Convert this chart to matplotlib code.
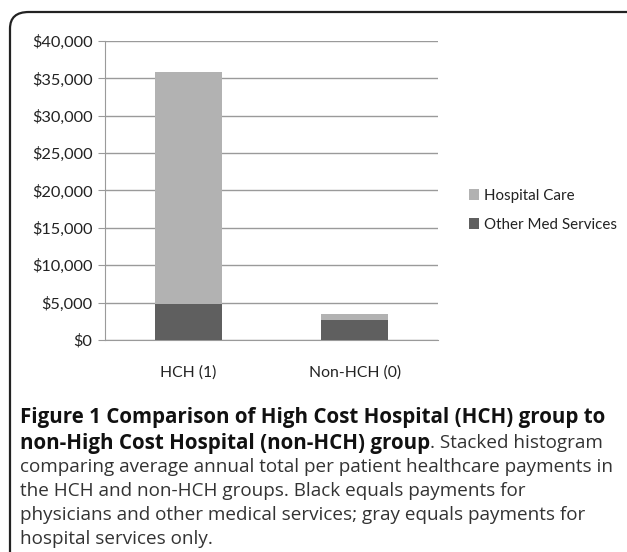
import matplotlib
matplotlib.use("Agg")
import matplotlib.pyplot as plt
import matplotlib.patches as patches
from matplotlib.ticker import FuncFormatter

# data
groups = ["HCH (1)", "Non-HCH (0)"]
other_med = [4800, 2700]
hospital = [31100, 800]
yticks = list(range(0, 40001, 5000))

W, H = 627, 552
fig = plt.figure(figsize=(W / 100, H / 100), dpi=100)
fig.patch.set_facecolor("white")

# frame round the whole figure (left and top sides only show)
frame = patches.FancyBboxPatch((10 / W, -0.2), 1.2, (540 / H) + 0.2,
                               boxstyle="round,pad=0,rounding_size=0.03",
                               transform=fig.transFigure, facecolor="none",
                               edgecolor="#222222", linewidth=1.6, clip_on=False)
fig.patches.append(frame)

ax = fig.add_axes([105 / W, 1 - 340 / H, (438 - 105) / W, (340 - 41) / H])

x = range(len(groups))
b1 = ax.bar(x, other_med, width=0.4, color="#5f5f5f", label="Other Med Services", zorder=3)
b2 = ax.bar(x, hospital, width=0.4, bottom=other_med, color="#b2b2b2",
            label="Hospital Care", zorder=3)

ax.set_xlim(-0.5, 1.5)
ax.set_ylim(0, 40000)
ax.set_yticks(yticks)
ax.yaxis.set_major_formatter(FuncFormatter(lambda v, p: "${:,.0f}".format(v)))
ax.set_xticks(list(x))
ax.set_xticklabels(groups)
ax.grid(axis="y", color="#9a9a9a", linewidth=1.0, zorder=0)
for s in ["top", "right"]:
    ax.spines[s].set_visible(False)
ax.spines["left"].set_color("#9a9a9a")
ax.spines["bottom"].set_color("#9a9a9a")
ax.tick_params(axis="y", length=5, color="#9a9a9a", labelsize=11.8, labelcolor="#222222", pad=4)
ax.tick_params(axis="x", length=0, labelsize=11.3, labelcolor="#222222", pad=18)
for lab in ax.get_xticklabels() + ax.get_yticklabels():
    lab.set_family("Lato")

leg = ax.legend(handles=[b2, b1], loc="upper left", bbox_to_anchor=(455 / W, 1 - 175 / H),
                bbox_transform=fig.transFigure, frameon=False, handlelength=0.7,
                handleheight=0.7, handletextpad=0.3, labelspacing=1.0,
                prop={"family": "Lato", "size": 10.9})
for t in leg.get_texts():
    t.set_color("#222222")

# caption
cap_x = 20 / W
fs_b = 14.8
fs = 13.6
fig.text(cap_x, 1 - 418 / H, "Figure 1 Comparison of High Cost Hospital (HCH) group to",
         fontsize=fs_b, fontweight="bold", family="Open Sans", va="center", color="#111111")
t1 = fig.text(cap_x, 1 - 443 / H, "non-High Cost Hospital (non-HCH) group",
              fontsize=fs_b, fontweight="bold", family="Open Sans", va="center", color="#111111")
fig.canvas.draw()
bb = t1.get_window_extent()
fig.text(bb.x1 / W, 1 - 443 / H, ". Stacked histogram",
         fontsize=fs, family="Open Sans", va="center", color="#333333")
rest = ["comparing average annual total per patient healthcare payments in",
        "the HCH and non-HCH groups. Black equals payments for",
        "physicians and other medical services; gray equals payments for",
        "hospital services only."]
for i, line in enumerate(rest):
    fig.text(cap_x, 1 - (467 + 24 * i) / H, line, fontsize=fs, family="Open Sans",
             va="center", color="#333333")

fig.savefig("out.png", dpi=100)
